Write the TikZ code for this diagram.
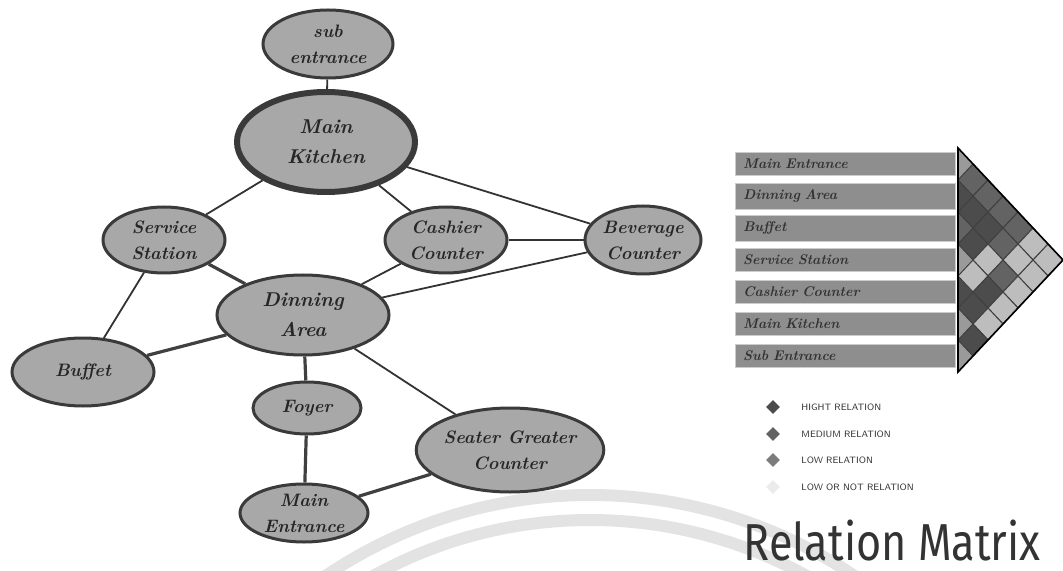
\documentclass[tikz,border=0pt]{standalone}
\usepackage{fontspec}
\usetikzlibrary{shapes.geometric,positioning}
\newfontfamily\titlefont{Fira Sans}
\definecolor{roomgray}{HTML}{A8A8A8}
\definecolor{rim}{HTML}{3A3A3A}
\definecolor{bargray}{HTML}{8E8E8E}
\definecolor{high}{HTML}{4C4C4C}
\definecolor{medium}{HTML}{636363}
\definecolor{low}{HTML}{7C7C7C}
\definecolor{light}{HTML}{BDBDBD}
\definecolor{self}{HTML}{9A9A9A}
\definecolor{arcgray}{HTML}{E3E3E3}
\begin{document}
\begin{tikzpicture}[x=0.5pt,y=-0.5pt,
  room/.style={ellipse,draw=rim,line width=1.5pt,fill=roomgray,inner sep=0pt,
    align=center,font=\fontsize{9}{13}\selectfont\bfseries\itshape,text=black!85},
  link/.style={draw=black!80,line width=0.9pt},
  heavy/.style={draw=black!75,line width=1.6pt},
  bar/.style={draw=black!20,fill=bargray,minimum width=110pt,minimum height=11.5pt,
    inner xsep=3pt,text width=102pt,align=left,
    font=\fontsize{7}{7}\selectfont\bfseries\itshape,text=black!80},
  key/.style={diamond,inner sep=0pt,minimum size=7pt},
  keytext/.style={font=\fontsize{4.6}{5}\selectfont\sffamily,text=black!80}]
  \useasboundingbox (0,0) rectangle (1063,571);
  % Background arcs
  \draw[arcgray,line width=6pt] (590,967) ++(225:472) arc[start angle=225,end angle=315,radius=472];
  \draw[arcgray,line width=6pt] (590,967) ++(225:447) arc[start angle=225,end angle=315,radius=447];
  % Rooms
  \node[room,minimum width=65pt,minimum height=34pt] (sub) at (328,44) {sub\\entrance};
  \node[room,minimum width=89pt,minimum height=50pt,line width=3pt,
    font=\fontsize{10}{15}\selectfont\bfseries\itshape] (kitchen) at (326,142) {Main\\Kitchen};
  \node[room,minimum width=61pt,minimum height=33pt] (service) at (164,240) {Service\\Station};
  \node[room,minimum width=61pt,minimum height=33pt] (cashier) at (446,240) {Cashier\\Counter};
  \node[room,minimum width=58pt,minimum height=34pt] (beverage) at (643,240) {Beverage\\Counter};
  \node[room,minimum width=86pt,minimum height=40pt,
    font=\fontsize{10}{15}\selectfont\bfseries\itshape] (dining) at (303,315) {Dinning\\Area};
  \node[room,minimum width=71pt,minimum height=34pt] (buffet) at (83,372) {Buffet};
  \node[room,minimum width=54pt,minimum height=26pt] (foyer) at (307,408) {Foyer};
  \node[room,minimum width=85pt,minimum height=42pt] (seater) at (510,450) {Seater Greater\\Counter};
  \node[room,minimum width=64pt,minimum height=29pt] (entrance) at (304,513) {Main\\Entrance};
  % Connections
  \draw[link] (sub) -- (kitchen);
  \draw[link] (kitchen) -- (service);
  \draw[link] (kitchen) -- (cashier);
  \draw[link] (kitchen) -- (beverage);
  \draw[link] (service) -- (buffet);
  \draw[heavy] (service) -- (dining);
  \draw[heavy] (buffet) -- (dining);
  \draw[link] (cashier) -- (dining);
  \draw[link] (cashier) -- (beverage);
  \draw[link] (dining) -- (beverage);
  \draw[heavy] (dining) -- (foyer);
  \draw[link] (dining) -- (seater);
  \draw[heavy] (foyer) -- (entrance);
  \draw[heavy] (entrance) -- (seater);
  % Matrix labels
  \node[bar] (m1) at (845,164) {Main Entrance};
  \node[bar] (m2) at (845,196) {Dinning Area};
  \node[bar] (m3) at (845,228) {Buffet};
  \node[bar] (m4) at (845,260) {Service Station};
  \node[bar] (m5) at (845,292) {Cashier Counter};
  \node[bar] (m6) at (845,324) {Main Kitchen};
  \node[bar] (m7) at (845,356) {Sub Entrance};
  % Half cells on the left edge
  \foreach \i/\c in {1/self,2/high,3/medium,4/self,5/high,6/self,7/self} {
    \pgfmathsetmacro\cy{164+32*(\i-1)}
    \fill[\c] (958,\cy-16) -- (973,\cy) -- (958,\cy+16) -- cycle;
  }
  % Relation cells
  \foreach \i/\j/\c in {1/2/medium,1/3/medium,1/4/medium,1/5/medium,1/6/light,1/7/light,
      2/3/high,2/4/high,2/5/medium,2/6/light,2/7/light,
      3/4/high,3/5/light,3/6/medium,3/7/light,
      4/5/light,4/6/high,4/7/light,
      5/6/high,5/7/light,6/7/high} {
    \pgfmathsetmacro\cx{958+15*(\j-\i)}
    \pgfmathsetmacro\cy{164+16*(\i+\j-2)}
    \filldraw[fill=\c,draw=black!75,line width=0.5pt]
      (\cx-15,\cy) -- (\cx,\cy-16) -- (\cx+15,\cy) -- (\cx,\cy+16) -- cycle;
  }
  \draw[line width=0.8pt] (958,148) -- (1063,260) -- (958,372) -- cycle;
  % Legend
  \node[key,fill=high] (k1) at (773,407) {};
  \node[key,fill=medium] (k2) at (773,434) {};
  \node[key,fill=low] (k3) at (773,460) {};
  \node[key,fill=black!8] (k4) at (773,487) {};
  \node[keytext,right=7pt of k1] (t1) {HIGHT RELATION};
  \node[keytext,right=7pt of k2] (t2) {MEDIUM RELATION};
  \node[keytext,right=7pt of k3] (t3) {LOW RELATION};
  \node[keytext,right=7pt of k4] (t4) {LOW OR NOT RELATION};
  % Title
  \node[font=\titlefont\fontsize{26}{26}\selectfont,text=black!80,anchor=base,inner sep=0pt]
    (title) at (892,560) {\scalebox{0.83}[1]{Relation Matrix}};
\end{tikzpicture}
\end{document}
